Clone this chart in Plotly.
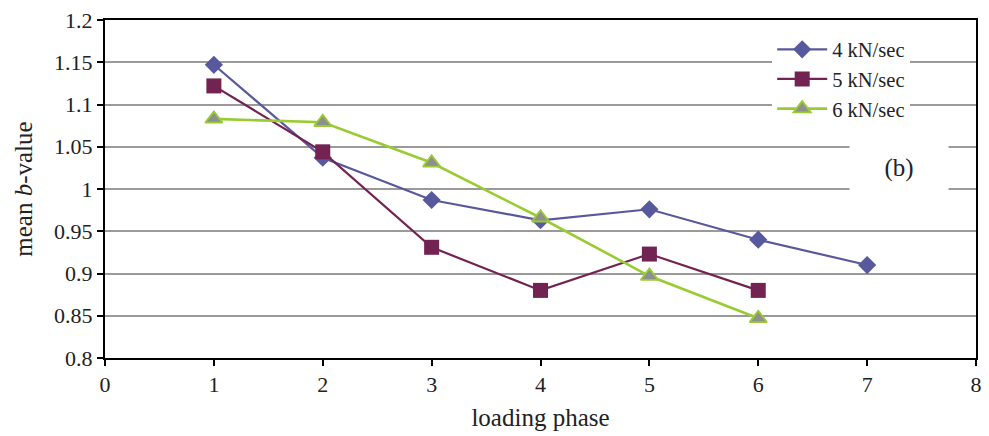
import plotly.graph_objects as go

# loading phase indices
phase_4 = [1, 2, 3, 4, 5, 6, 7]
phase_5 = [1, 2, 3, 4, 5, 6]
phase_6 = [1, 2, 3, 4, 5, 6]

# mean b-value per loading rate
b_4kn = [1.147, 1.037, 0.987, 0.963, 0.976, 0.940, 0.910]
b_5kn = [1.122, 1.044, 0.931, 0.880, 0.923, 0.880]
b_6kn = [1.083, 1.079, 1.031, 0.966, 0.897, 0.847]

series_names = ["4 kN/sec", "5 kN/sec", "6 kN/sec"]

x_ticks = [0, 1, 2, 3, 4, 5, 6, 7, 8]
y_ticks = [0.8, 0.85, 0.9, 0.95, 1.0, 1.05, 1.1, 1.15, 1.2]
y_tick_text = ["0.8", "0.85", "0.9", "0.95", "1", "1.05", "1.1", "1.15", "1.2"]

FONT = "Liberation Serif, Times New Roman, serif"

fig = go.Figure()
fig.add_trace(go.Scatter(
    x=phase_4, y=b_4kn, name=series_names[0], mode="lines+markers",
    line=dict(color="#58589C", width=2.2),
    marker=dict(symbol="diamond", size=14, color="#58589C"),
))
fig.add_trace(go.Scatter(
    x=phase_5, y=b_5kn, name=series_names[1], mode="lines+markers",
    line=dict(color="#722352", width=2.2),
    marker=dict(symbol="square", size=15, color="#722352"),
))
fig.add_trace(go.Scatter(
    x=phase_6, y=b_6kn, name=series_names[2], mode="lines+markers",
    line=dict(color="#99CC33", width=2.6),
    marker=dict(symbol="triangle-up", size=15, color="#8F8F8F",
                line=dict(color="#99CC33", width=1.8)),
))

# panel label with a white box that breaks the gridlines
fig.add_annotation(
    x=0.912, y=0.562, xref="paper", yref="paper",
    xanchor="center", yanchor="middle",
    text="(b)", showarrow=False, xshift=0,
    font=dict(family=FONT, size=25, color="#222222"),
    bgcolor="white", borderpad=0,
    width=98, height=52,
)

fig.update_layout(
    width=989, height=436,
    margin=dict(l=105, r=7, t=20, b=78),
    paper_bgcolor="white", plot_bgcolor="white",
    font=dict(family=FONT, size=21, color="#222222"),
    showlegend=True,
    legend=dict(
        x=0.766, y=0.972, xanchor="left", yanchor="top",
        bgcolor="white", borderwidth=0,
        font=dict(family=FONT, size=20.5, color="#222222"),
        tracegroupgap=0, itemwidth=50,
    ),
    xaxis=dict(
        range=[0, 8], tickvals=x_ticks,
        showline=True, linecolor="black", linewidth=2, mirror=True,
        ticks="outside", ticklen=6, tickcolor="black", tickwidth=1.5,
        showgrid=False, zeroline=False,
        title=dict(text="loading phase", font=dict(size=25), standoff=12),
        tickfont=dict(size=22),
    ),
    yaxis=dict(
        range=[0.8, 1.2], tickvals=y_ticks, ticktext=y_tick_text,
        showline=True, linecolor="black", linewidth=2, mirror=True,
        ticks="outside", ticklen=6, tickcolor="black", tickwidth=1.5,
        showgrid=True, gridcolor="#9A9A9A", gridwidth=1.8,
        zeroline=False,
        title=dict(text="mean <i>b</i>-value", font=dict(size=25), standoff=14),
        tickfont=dict(size=22),
    ),
)

fig.write_html("out.html")
